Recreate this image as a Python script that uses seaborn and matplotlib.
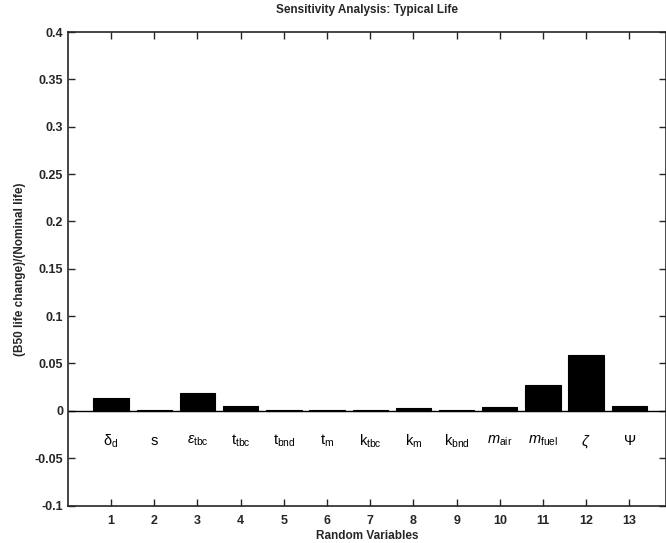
import pandas as pd
import matplotlib
matplotlib.use('Agg')
import matplotlib.pyplot as plt
import seaborn as sns

# data
variables = list(range(1, 14))
sensitivity = [0.0135, 0.0005, 0.0185, 0.005, 0.0005, 0.001, 0.0005,
               0.003, 0.001, 0.0045, 0.027, 0.059, 0.0055]
var_labels = [r'$\mathrm{\delta_d}$', r'$\mathrm{s}$', r'$\epsilon_\mathrm{tbc}$',
              r'$\mathrm{t_{tbc}}$', r'$\mathrm{t_{bnd}}$', r'$\mathrm{t_m}$',
              r'$\mathrm{k_{tbc}}$', r'$\mathrm{k_m}$', r'$\mathrm{k_{bnd}}$',
              r'$m_\mathrm{air}$', r'$m_\mathrm{fuel}$', r'$\zeta$', r'$\Psi$']
y_ticks = [-0.1, -0.05, 0, 0.05, 0.1, 0.15, 0.2, 0.25, 0.3, 0.35, 0.4]
y_ticklabels = ['-0.1', '-0.05', '0', '0.05', '0.1', '0.15', '0.2', '0.25', '0.3', '0.35', '0.4']

df = pd.DataFrame({'var': variables, 'sens': sensitivity})

sns.set_style('ticks')
plt.rcParams['font.family'] = ['Liberation Sans', 'DejaVu Sans']
plt.rcParams['mathtext.fontset'] = 'custom'
plt.rcParams['mathtext.rm'] = 'Liberation Sans'
plt.rcParams['mathtext.it'] = 'Liberation Sans:italic'

fig = plt.figure(figsize=(6.66, 5.43), dpi=100)
ax = fig.add_axes([0.102, 0.069, 0.898, 0.872])

sns.barplot(data=df, x='var', y='sens', native_scale=True, color='black',
            width=0.82, edgecolor='black', linewidth=0.8, ax=ax)
ax.axhline(0, color='black', lw=1.0)

# variable names drawn inside the plot under each bar
for v, lab in zip(variables, var_labels):
    ax.text(v, -0.032, lab, ha='center', va='center', fontsize=10.5, color='black')

ax.set_xlim(0, 13.85)
ax.set_ylim(-0.1, 0.4)
ax.set_xticks(variables)
ax.set_xticklabels([str(v) for v in variables], fontsize=9, fontweight='bold')
ax.set_yticks(y_ticks)
ax.set_yticklabels(y_ticklabels, fontsize=9, fontweight='bold')
ax.tick_params(axis='x', pad=7)
ax.tick_params(direction='in', length=5, width=1, top=True, right=True)
for s in ax.spines.values():
    s.set_linewidth(1.2)
    s.set_visible(True)

ax.set_title('Sensitivity Analysis: Typical Life', fontsize=8.5, fontweight='bold', pad=14)
ax.set_xlabel('Random Variables', fontsize=8.5, fontweight='bold', labelpad=2)
ax.set_ylabel('(B50 life change)/(Nominal life)', fontsize=8.5, fontweight='bold', labelpad=6)

fig.savefig('out.png', dpi=100)
